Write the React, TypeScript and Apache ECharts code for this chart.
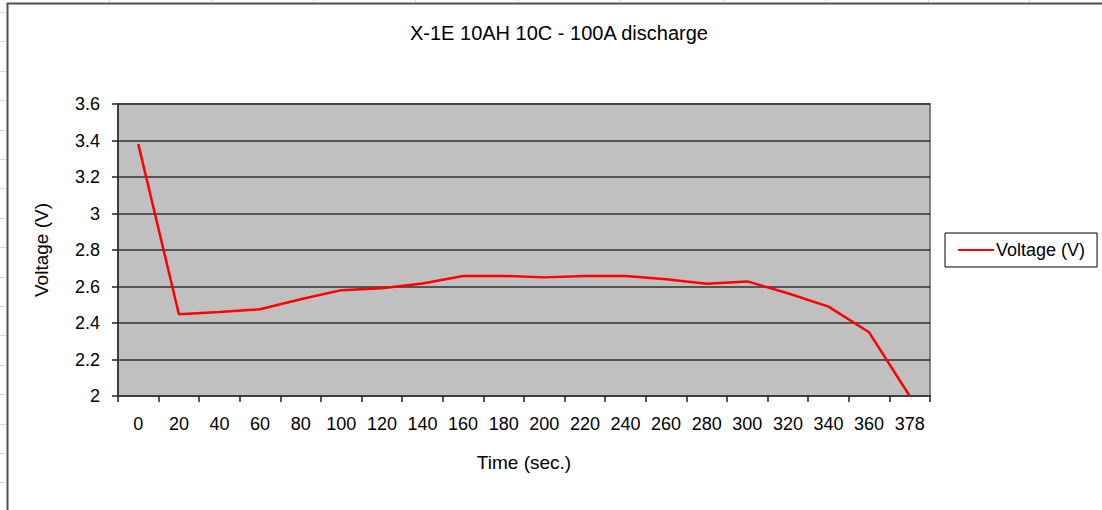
import React, { useEffect, useRef } from "react";
import * as echarts from "echarts";

const categories = ["0", "20", "40", "60", "80", "100", "120", "140", "160", "180", "200", "220", "240", "260", "280", "300", "320", "340", "360", "378"];
const voltage = [3.38, 2.448, 2.46, 2.475, 2.53, 2.58, 2.59, 2.617, 2.657, 2.658, 2.65, 2.658, 2.658, 2.64, 2.615, 2.628, 2.563, 2.49, 2.349, 2.0];
const yTicks = { min: 2, max: 3.6, interval: 0.2 };

const FONT = "Liberation Sans, Arial, sans-serif";

export default function App() {
  const ref = useRef<HTMLDivElement>(null);
  useEffect(() => {
    if (!ref.current) return;
    const chart = echarts.init(ref.current, undefined, { renderer: "svg" });
    const sheetLines: any[] = [];
    const vx = [109, 212, 313, 415, 518, 620, 723, 825, 928, 1029];
    vx.forEach((x) => sheetLines.push({ type: "line", shape: { x1: x + 0.5, y1: 0, x2: x + 0.5, y2: 3 }, style: { stroke: "#d0d6e4", lineWidth: 1 }, silent: true }));
    for (let y = 12; y < 510; y += 29.4) {
      sheetLines.push({ type: "line", shape: { x1: 0, y1: Math.round(y) + 0.5, x2: 6, y2: Math.round(y) + 0.5 }, style: { stroke: "#d0d6e4", lineWidth: 1 }, silent: true });
    }
    chart.setOption({
      animation: false,
      backgroundColor: "#ffffff",
      textStyle: { fontFamily: FONT },
      title: {
        text: "X-1E 10AH 10C - 100A discharge",
        left: 405,
        top: 18,
        textStyle: { fontFamily: FONT, fontSize: 20, fontWeight: "normal", color: "#000" },
      },
      legend: {
        left: 945,
        top: 233,
        orient: "vertical",
        padding: [8, 12, 8, 13],
        borderColor: "#000",
        borderWidth: 1,
        itemWidth: 36,
        itemHeight: 14,
        textStyle: { fontFamily: FONT, fontSize: 18, color: "#000", padding: [0, 0, 0, -3] },
        data: [{ name: "Voltage (V)", icon: "path://M0,6 L36,6 L36,8 L0,8 Z" }],
        itemStyle: { color: "#ff0000" },
      },
      grid: {
        left: 118,
        top: 104,
        right: 172,
        bottom: 114,
        show: true,
        backgroundColor: "#c0c0c0",
        borderColor: "#808080",
        borderWidth: 2,
      },
      xAxis: {
        type: "category",
        data: categories,
        boundaryGap: true,
        name: "Time (sec.)",
        nameLocation: "middle",
        nameGap: 57,
        nameTextStyle: { fontFamily: FONT, fontSize: 19, color: "#000" },
        axisLine: { lineStyle: { color: "#404040", width: 2 } },
        axisTick: { show: true, length: 6, lineStyle: { color: "#202020", width: 1.5 } },
        axisLabel: { margin: 19, fontFamily: FONT, fontSize: 18, color: "#000", interval: 0 },
      },
      yAxis: {
        type: "value",
        min: yTicks.min,
        max: yTicks.max,
        interval: yTicks.interval,
        name: "Voltage (V)",
        nameLocation: "middle",
        nameGap: 67,
        nameRotate: 90,
        nameTextStyle: { fontFamily: FONT, fontSize: 19, color: "#000" },
        axisLine: { show: true, lineStyle: { color: "#404040", width: 2 } },
        axisTick: { show: true, length: 6, lineStyle: { color: "#202020", width: 1.5 } },
        axisLabel: { margin: 18, fontFamily: FONT, fontSize: 18, color: "#000" },
        splitLine: { show: true, lineStyle: { color: "#303030", width: 1.5 } },
      },
      series: [
        {
          name: "Voltage (V)",
          type: "line",
          data: voltage,
          symbol: "none",
          lineStyle: { color: "#ff0000", width: 2.5 },
          itemStyle: { color: "#ff0000" },
        },
      ],
      graphic: [
        ...sheetLines,
        {
          type: "polyline",
          shape: { points: [[7.5, 510], [7.5, 3.5], [1102, 3.5]] },
          style: { stroke: "#505050", lineWidth: 2, fill: null },
          silent: true,
        },
      ],
    });
    return () => chart.dispose();
  }, []);
  return <div ref={ref} style={{ position: "fixed", left: 0, top: 0, width: 1102, height: 510 }} />;
}
